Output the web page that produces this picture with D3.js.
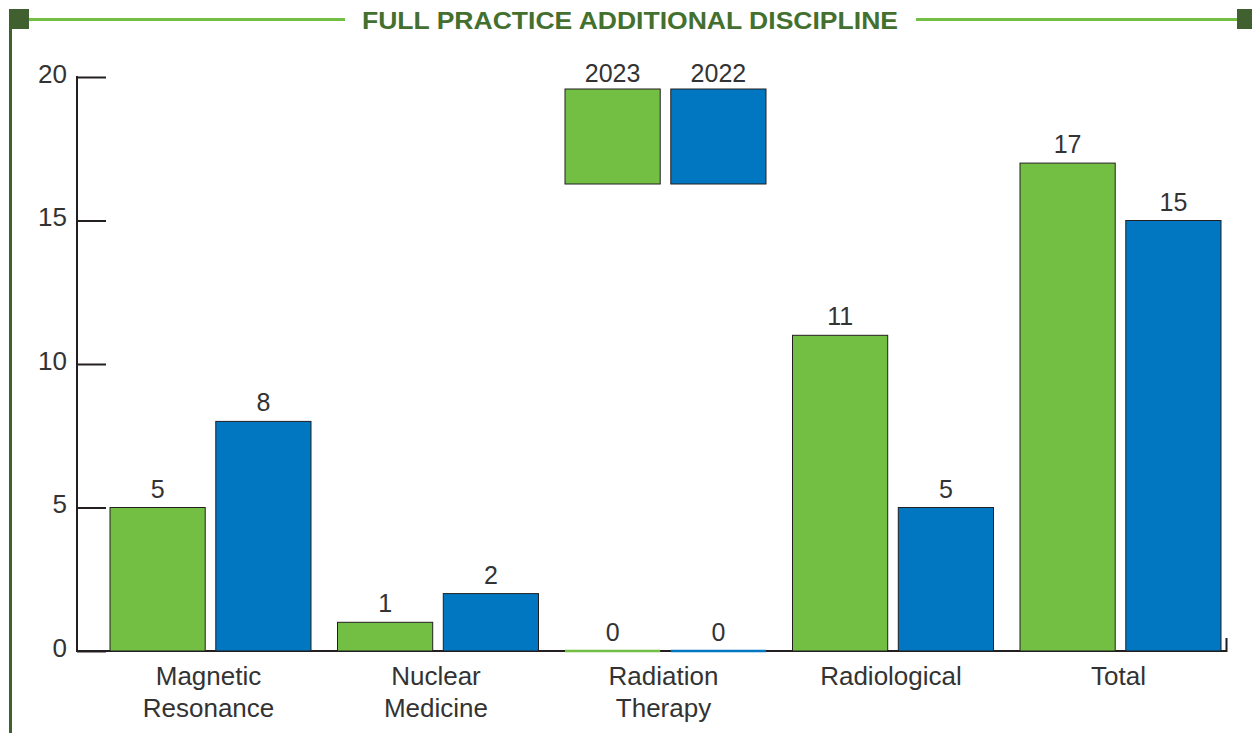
<!DOCTYPE html>
<html>
<head>
<meta charset="utf-8">
<script src="https://cdn.jsdelivr.net/npm/d3@7"></script>
<style>
    body { margin: 0; background: #fff; }
    svg text { font-family: 'Liberation Sans', Arial, sans-serif; fill: #333; }
</style>
</head>
<body>
<div id="chart"></div>
<script>
const categories = [['Magnetic', 'Resonance'], ['Nuclear', 'Medicine'], ['Radiation', 'Therapy'], ['Radiological'], ['Total']];
const years = ['2023', '2022'];
const values2023 = [5, 1, 0, 11, 17];
const values2022 = [8, 2, 0, 5, 15];
const yTicks = [0, 5, 10, 15, 20];

const palette = {
    '2023': '#72bf44',
    '2022': '#0077c0'
};
const darkGreen = '#40612f';

const width = 1252;
const height = 733;

const svg = d3.select('#chart')
    .append('svg')
    .attr('width', width)
    .attr('height', height);

// frame + title
svg.append('rect').attr('x', 9).attr('y', 9).attr('width', 20).attr('height', 20).attr('fill', darkGreen);
svg.append('rect').attr('x', 1237).attr('y', 9).attr('width', 20).attr('height', 20).attr('fill', darkGreen);
svg.append('line').attr('x1', 10.5).attr('x2', 10.5).attr('y1', 29).attr('y2', height)
    .attr('stroke', darkGreen).attr('stroke-width', 3);
svg.append('line').attr('x1', 29).attr('x2', 345).attr('y1', 19.5).attr('y2', 19.5)
    .attr('stroke', '#72bf44').attr('stroke-width', 3);
svg.append('line').attr('x1', 916).attr('x2', 1237).attr('y1', 19.5).attr('y2', 19.5)
    .attr('stroke', '#72bf44').attr('stroke-width', 3);
svg.append('text')
    .attr('x', 362)
    .attr('y', 29)
    .attr('textLength', 536)
    .attr('lengthAdjust', 'spacingAndGlyphs')
    .style('font-size', '24.5px')
    .style('font-weight', 700)
    .style('fill', '#44702f')
    .text('FULL PRACTICE ADDITIONAL DISCIPLINE');

const y = d3.scaleLinear()
    .domain([0, 20])
    .range([651, 77]);

const x0 = d3.scaleBand()
    .domain(d3.range(categories.length))
    .range([96.75, 1234.25])
    .paddingInner(0.1165)
    .paddingOuter(0.05825);

const x1 = d3.scaleBand()
    .domain(years)
    .range([0, x0.bandwidth()])
    .paddingInner(0.1)
    .paddingOuter(0);

const data = categories.map((c, i) => ({
    index: i,
    label: c,
    bars: [
        {year: '2023', value: values2023[i]},
        {year: '2022', value: values2022[i]}
    ]
}));

// y axis
const yAxis = d3.axisRight(y)
    .tickValues(yTicks)
    .tickSize(29)
    .tickSizeOuter(0)
    .tickFormat(d3.format('d'));

const yAxisG = svg.append('g')
    .attr('transform', 'translate(77,0)')
    .call(yAxis);
yAxisG.select('.domain').remove();
yAxisG.selectAll('line').attr('stroke', '#231f20').attr('stroke-width', 2);
yAxisG.selectAll('text')
    .attr('x', -10)
    .attr('y', 5)
    .attr('dy', null)
    .attr('text-anchor', 'end')
    .style('font-size', '26px')
    .style('fill', '#333');

svg.append('path')
    .attr('d', 'M77,76V651H1226.5V638')
    .attr('fill', 'none')
    .attr('stroke', '#231f20')
    .attr('stroke-width', 2);

// bars
const groups = svg.append('g').selectAll('.group')
    .data(data)
    .enter()
    .append('g')
        .classed('group', true)
        .attr('transform', d => 'translate(' + x0(d.index) + ',0)');

let binding = groups.selectAll('.bar')
    .data(d => d.bars)
    .enter();

binding.append('rect')
    .classed('bar', true)
    .attr('x', d => x1(d.year))
    .attr('y', d => y(d.value))
    .attr('width', x1.bandwidth())
    .attr('height', d => y(0) - y(d.value))
    .attr('fill', d => palette[d.year])
    .attr('stroke', '#231f20')
    .attr('stroke-width', 1)
    .attr('display', d => d.value > 0 ? null : 'none');

// zero values show as a coloured line on the baseline
binding.filter(d => d.value == 0)
    .append('line')
    .attr('x1', d => x1(d.year))
    .attr('x2', d => x1(d.year) + x1.bandwidth())
    .attr('y1', y(0))
    .attr('y2', y(0))
    .attr('stroke', d => palette[d.year])
    .attr('stroke-width', 2.5);

binding.append('text')
    .attr('x', d => x1(d.year) + x1.bandwidth() / 2)
    .attr('y', d => y(d.value) - 10)
    .attr('text-anchor', 'middle')
    .style('font-size', '25px')
    .text(d => d.value);

// category labels
groups.append('text')
    .attr('text-anchor', 'middle')
    .style('font-size', '26px')
    .selectAll('tspan')
    .data(d => d.label.map(l => ({l: l, w: x0.bandwidth()})))
    .enter()
    .append('tspan')
        .attr('x', d => d.w / 2 - 2)
        .attr('y', (d, i) => 685 + i * 32)
        .text(d => d.l);

// legend sits over the Radiation Therapy group
const legend = svg.append('g')
    .attr('transform', 'translate(' + x0(2) + ',0)');

legend.selectAll('rect')
    .data(years)
    .enter()
    .append('rect')
        .attr('x', d => x1(d))
        .attr('y', 89)
        .attr('width', x1.bandwidth())
        .attr('height', 95)
        .attr('fill', d => palette[d])
        .attr('stroke', '#231f20')
        .attr('stroke-width', 1);

legend.selectAll('text')
    .data(years)
    .enter()
    .append('text')
        .attr('x', d => x1(d) + x1.bandwidth() / 2)
        .attr('y', 82)
        .attr('text-anchor', 'middle')
        .style('font-size', '25px')
        .text(d => d);
</script>
</body>
</html>
